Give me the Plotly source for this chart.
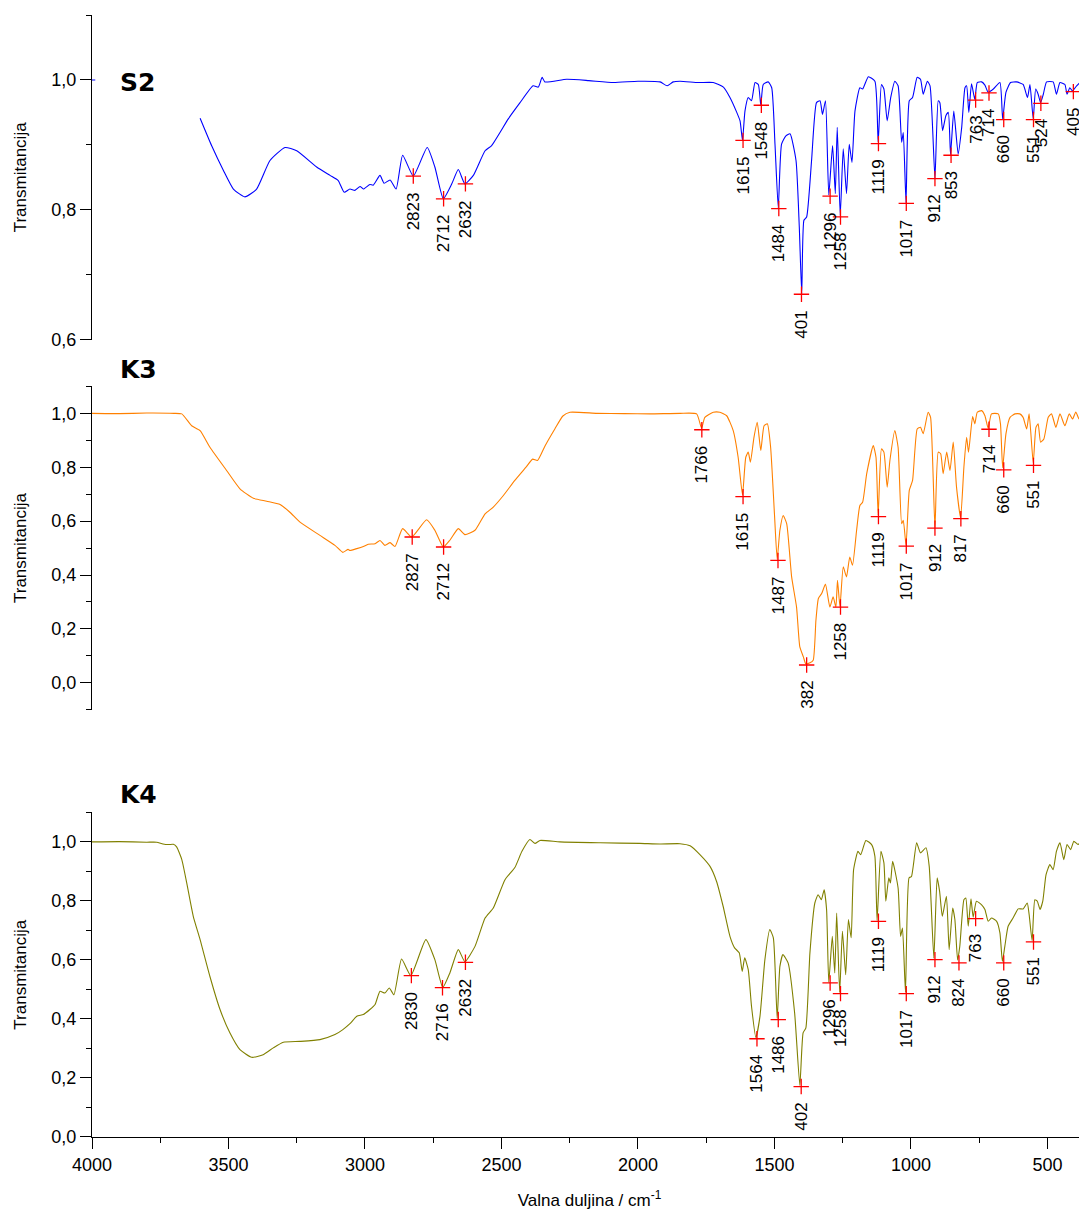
import plotly.graph_objects as go

# ---------------- data ----------------
# S2 spectrum
s2_wn = [4000, 3988, None,
         3604, 3562, 3519, 3482, 3440, 3397, 3348, 3293, 3250, 3177, 3128, 3098, 3076, 3055, 3037,
         3018, 3006, 2982, 2970, 2945, 2930, 2908, 2886, 2862, 2823, 2772, 2744, 2713, 2682, 2658,
         2634, 2603, 2560, 2536, 2475, 2432, 2384, 2365, 2351, 2341, 2261, 2180, 2090, 2000, 1919,
         1893, 1871, 1846, 1779, 1724, 1687, 1663, 1638, 1626, 1617, 1608, 1596, 1584, 1571, 1559,
         1550, 1541, 1523, 1510, 1498, 1486, 1474, 1458, 1443, 1421, 1409, 1400, 1392, 1382, 1364,
         1346, 1333, 1324, 1313, 1301, 1287, 1277, 1270, 1259, 1248, 1236, 1226, 1216, 1205, 1187,
         1177, 1156, 1132, 1120, 1108, 1099, 1087, 1074, 1059, 1047, 1034, 1028, 1018, 1006, 994,
         977, 965, 955, 940, 930, 912, 900, 894, 884, 872, 863, 855, 843, 827, 814, 802, 796, 788,
         778, 766, 757, 741, 729, 717, 698, 674, 664, 652, 635, 613, 589, 573, 564, 552, 543, 534,
         525, 515, 503, 479, 467, 454, 436, 428, 418, 408, 393, 375, 363, 355]
s2_t = [1.000, 1.000, None,
        0.941, 0.899, 0.861, 0.832, 0.820, 0.832, 0.876, 0.896, 0.891, 0.866, 0.853, 0.845, 0.827, 0.832, 0.830,
        0.836, 0.832, 0.839, 0.838, 0.853, 0.841, 0.846, 0.832, 0.884, 0.852, 0.896, 0.866, 0.817, 0.840, 0.862,
        0.840, 0.853, 0.891, 0.899, 0.940, 0.965, 0.991, 0.989, 1.004, 0.997, 1.001, 0.999, 0.996, 0.998, 0.997,
        0.991, 0.997, 0.998, 0.996, 0.996, 0.989, 0.973, 0.950, 0.937, 0.907, 0.952, 0.973, 0.968, 0.996, 0.993,
        0.961, 0.993, 0.997, 0.988, 0.901, 0.803, 0.901, 0.914, 0.917, 0.876, 0.774, 0.671, 0.784, 0.789, 0.876,
        0.965, 0.968, 0.947, 0.968, 0.823, 0.899, 0.825, 0.927, 0.791, 0.894, 0.825, 0.901, 0.873, 0.952, 0.988,
        0.986, 1.005, 0.998, 0.904, 0.993, 0.986, 0.937, 0.973, 0.998, 0.991, 0.904, 0.919, 0.811, 0.968, 0.973,
        1.004, 1.001, 0.978, 0.998, 0.991, 0.849, 0.968, 0.965, 0.922, 0.945, 0.950, 0.885, 0.952, 0.886, 0.927,
        0.988, 0.991, 0.950, 0.994, 0.970, 0.996, 0.997, 0.992, 0.981, 0.986, 0.996, 0.940, 0.981, 0.996, 0.997,
        0.993, 0.973, 0.993, 0.940, 0.986, 0.978, 0.965, 0.978, 0.997, 0.997, 0.978, 0.996, 0.993, 0.978, 0.988,
        0.983, 0.991, 0.997, 0.988, 0.990]

# K3 spectrum
k3_wn = [4000, 3900, 3800, 3700, 3671, 3635, 3604, 3568, 3507, 3458, 3409, 3360, 3311, 3275, 3238,
         3165, 3110, 3081, 3062, 3055, 3030, 3006, 2988, 2963, 2945, 2927, 2908, 2890, 2862, 2829,
         2774, 2744, 2713, 2689, 2658, 2634, 2597, 2560, 2530, 2493, 2451, 2410, 2386, 2368, 2340,
         2304, 2275, 2249, 2150, 2050, 1956, 1846, 1785, 1767, 1755, 1724, 1700, 1675, 1651, 1633,
         1617, 1605, 1596, 1588, 1575, 1563, 1550, 1538, 1526, 1514, 1500, 1490, 1480, 1468, 1455,
         1437, 1419, 1407, 1394, 1385, 1370, 1358, 1348, 1339, 1327, 1313, 1297, 1285, 1275, 1269,
         1260, 1248, 1236, 1224, 1214, 1199, 1187, 1177, 1162, 1138, 1128, 1120, 1108, 1099, 1087,
         1077, 1059, 1047, 1034, 1028, 1018, 1006, 994, 977, 965, 955, 937, 928, 912, 900, 891, 882,
         869, 857, 845, 833, 818, 806, 796, 789, 774, 766, 757, 741, 729, 717, 705, 680, 672, 664,
         652, 637, 619, 601, 589, 576, 567, 552, 542, 534, 525, 513, 497, 485, 469, 454, 436, 420,
         408, 396, 384, 369, 355]
k3_t = [1.000, 0.999, 1.001, 1.000, 0.998, 0.954, 0.936, 0.874, 0.788, 0.720, 0.685, 0.674, 0.662, 0.633, 0.596,
        0.547, 0.510, 0.484, 0.495, 0.491, 0.498, 0.506, 0.514, 0.516, 0.528, 0.510, 0.520, 0.506, 0.572, 0.541,
        0.605, 0.566, 0.504, 0.529, 0.572, 0.550, 0.566, 0.627, 0.652, 0.695, 0.751, 0.800, 0.830, 0.825, 0.880,
        0.943, 0.990, 1.004, 1.000, 0.999, 0.998, 1.000, 0.998, 0.945, 0.985, 1.004, 1.004, 0.991, 0.936, 0.837,
        0.697, 0.837, 0.856, 0.819, 0.911, 0.967, 0.862, 0.954, 0.961, 0.874, 0.627, 0.458, 0.566, 0.621, 0.590,
        0.393, 0.281, 0.133, 0.096, 0.070, 0.074, 0.084, 0.232, 0.313, 0.331, 0.366, 0.281, 0.319, 0.281, 0.380,
        0.283, 0.430, 0.393, 0.467, 0.436, 0.566, 0.658, 0.670, 0.776, 0.880, 0.837, 0.622, 0.868, 0.856, 0.726,
        0.825, 0.936, 0.874, 0.590, 0.603, 0.511, 0.714, 0.751, 0.942, 0.948, 0.924, 1.004, 0.985, 0.576, 0.856,
        0.850, 0.776, 0.856, 0.788, 0.893, 0.726, 0.612, 0.800, 0.911, 0.856, 0.988, 0.961, 1.004, 1.010, 0.991,
        0.945, 0.998, 0.998, 0.961, 0.798, 0.924, 0.985, 0.998, 0.998, 0.985, 0.942, 0.998, 0.816, 0.948, 0.961,
        0.893, 0.905, 0.985, 0.998, 0.948, 0.998, 0.954, 0.998, 0.979, 1.005, 0.979, 0.998, 0.998]

# K4 spectrum
k4_wn = [4000, 3900, 3800, 3763, 3740, 3720, 3702, 3690, 3671, 3653, 3629, 3604, 3568, 3531, 3495,
         3458, 3415, 3373, 3336, 3299, 3238, 3165, 3110, 3081, 3055, 3030, 3006, 2982, 2963, 2945,
         2927, 2911, 2894, 2866, 2832, 2777, 2744, 2715, 2689, 2658, 2634, 2597, 2560, 2530, 2487,
         2451, 2425, 2396, 2377, 2359, 2286, 2139, 1993, 1920, 1846, 1809, 1773, 1736, 1712, 1688,
         1663, 1646, 1629, 1618, 1609, 1596, 1584, 1568, 1553, 1535, 1517, 1504, 1490, 1480, 1469,
         1450, 1426, 1407, 1395, 1385, 1370, 1352, 1340, 1328, 1318, 1309, 1301, 1288, 1279, 1272,
         1261, 1251, 1239, 1229, 1219, 1210, 1194, 1184, 1165, 1144, 1132, 1124, 1110, 1099, 1092,
         1081, 1075, 1067, 1047, 1038, 1031, 1020, 1007, 998, 979, 965, 945, 933, 916, 904, 895, 885,
         870, 860, 847, 839, 829, 821, 806, 799, 790, 780, 772, 760, 741, 729, 717, 705, 686, 674,
         665, 656, 644, 626, 607, 589, 574, 567, 556, 546, 537, 527, 517, 505, 491, 479, 467, 454,
         440, 428, 415, 403, 388, 375, 363, 355]
k4_t = [1.000, 1.001, 0.999, 0.999, 0.993, 0.991, 0.992, 0.983, 0.940, 0.861, 0.748, 0.669, 0.544, 0.432, 0.353,
        0.296, 0.270, 0.279, 0.302, 0.321, 0.324, 0.330, 0.347, 0.364, 0.384, 0.409, 0.415, 0.432, 0.449, 0.494,
        0.488, 0.505, 0.482, 0.603, 0.547, 0.669, 0.601, 0.507, 0.556, 0.635, 0.594, 0.646, 0.742, 0.776, 0.872,
        0.913, 0.968, 1.008, 0.995, 1.005, 1.000, 0.997, 0.995, 0.993, 0.994, 0.987, 0.957, 0.917, 0.866, 0.782,
        0.680, 0.641, 0.624, 0.561, 0.607, 0.567, 0.443, 0.337, 0.409, 0.601, 0.703, 0.675, 0.402, 0.578, 0.618,
        0.590, 0.420, 0.175, 0.353, 0.369, 0.624, 0.793, 0.821, 0.804, 0.838, 0.771, 0.525, 0.680, 0.556, 0.759,
        0.490, 0.697, 0.550, 0.737, 0.675, 0.906, 0.968, 0.957, 1.005, 0.991, 0.951, 0.734, 0.968, 0.929, 0.799,
        0.878, 0.861, 0.934, 0.844, 0.680, 0.708, 0.490, 0.878, 0.883, 0.997, 0.963, 0.980, 0.917, 0.606, 0.878,
        0.833, 0.748, 0.816, 0.635, 0.776, 0.737, 0.600, 0.646, 0.804, 0.810, 0.714, 0.807, 0.745, 0.799, 0.787,
        0.771, 0.731, 0.742, 0.731, 0.692, 0.595, 0.646, 0.714, 0.742, 0.773, 0.773, 0.793, 0.754, 0.665, 0.804,
        0.799, 0.771, 0.799, 0.889, 0.923, 0.906, 0.968, 0.997, 0.940, 0.991, 0.974, 1.002, 0.991, 1.002, 0.974,
        0.940]

# Marked peaks (position, transmittance, label as printed)
s2_peak_wn = [2823, 2712, 2632, 1615, 1548, 1484, 1401, 1296, 1258, 1119, 1017, 912, 853, 763, 714, 660, 551, 524, 405]
s2_peak_t = [0.852, 0.817, 0.840, 0.907, 0.961, 0.802, 0.670, 0.821, 0.789, 0.902, 0.810, 0.848, 0.884, 0.969, 0.980,
             0.939, 0.939, 0.964, 0.982]
s2_peak_lbl = ["2823", "2712", "2632", "1615", "1548", "1484", "401", "1296", "1258", "1119", "1017", "912", "853",
               "763", "714", "660", "551", "524", "405"]

k3_peak_wn = [2827, 2712, 1766, 1615, 1487, 1382, 1258, 1119, 1017, 912, 817, 714, 660, 551]
k3_peak_t = [0.541, 0.504, 0.939, 0.691, 0.454, 0.066, 0.281, 0.617, 0.507, 0.574, 0.609, 0.941, 0.790, 0.807]
k3_peak_lbl = ["2827", "2712", "1766", "1615", "1487", "382", "1258", "1119", "1017", "912", "817", "714", "660", "551"]

k4_peak_wn = [2830, 2716, 2632, 1564, 1486, 1402, 1296, 1258, 1119, 1017, 912, 824, 763, 660, 551]
k4_peak_t = [0.547, 0.506, 0.592, 0.333, 0.398, 0.171, 0.522, 0.486, 0.731, 0.486, 0.601, 0.590, 0.740, 0.590, 0.661]
k4_peak_lbl = ["2830", "2716", "2632", "1564", "1486", "402", "1296", "1258", "1119", "1017", "912", "824", "763",
               "660", "551"]

panel_names = ["S2", "K3", "K4"]
line_colors = ["#0000ff", "#ff8000", "#808000"]

# ---------------- figure ----------------
FONT = "Arial, 'Liberation Sans', sans-serif"
fig = go.Figure()

spectra = [(s2_wn, s2_t, "y"), (k3_wn, k3_t, "y2"), (k4_wn, k4_t, "y3")]
peaks = [(s2_peak_wn, s2_peak_t, s2_peak_lbl, "y"),
         (k3_peak_wn, k3_peak_t, k3_peak_lbl, "y2"),
         (k4_peak_wn, k4_peak_t, k4_peak_lbl, "y3")]

for (wn, t, ya), col in zip(spectra, line_colors):
    fig.add_trace(go.Scatter(x=wn, y=t, mode="lines", xaxis="x", yaxis=ya,
                             line=dict(color=col, width=1.1, shape="spline", smoothing=0.5),
                             connectgaps=False, hoverinfo="skip"))

for pwn, pt, plbl, ya in peaks:
    fig.add_trace(go.Scatter(x=pwn, y=pt, mode="markers", xaxis="x", yaxis=ya,
                             marker=dict(symbol="cross-thin", size=11,
                                         line=dict(color="#ff0000", width=1.3)),
                             hoverinfo="skip"))
    for xw, yt, lb in zip(pwn, pt, plbl):
        fig.add_annotation(x=xw, y=yt, xref="x", yref=ya, text=lb, showarrow=False,
                           textangle=-90, xanchor="center", yanchor="top", yshift=-14,
                           font=dict(family=FONT, size=17, color="black"))

# panel titles
title_y = [0.9397, 0.6839, 0.3051]
for name, ty in zip(panel_names, title_y):
    fig.add_annotation(x=0.026, y=ty, xref="paper", yref="paper", text="<b>%s</b>" % name,
                       showarrow=False, xanchor="left", yanchor="middle",
                       font=dict(family="'DejaVu Sans', Verdana, sans-serif", size=25, color="black"))

yax_common = dict(showline=True, linecolor="black", linewidth=1.3, ticks="outside", ticklen=11,
                  tickwidth=1.3, tickcolor="black", showgrid=False, zeroline=False, anchor="x",
                  tickformat=".1f", dtick=0.2, tick0=0,
                  minor=dict(ticks="outside", ticklen=5, tickwidth=1.3, tickcolor="black", dtick=0.1,
                             tick0=0, showgrid=False),
                  tickfont=dict(family=FONT, size=18, color="black"),
                  title=dict(text="Transmitancija", font=dict(family=FONT, size=17, color="black"),
                             standoff=20))

fig.update_layout(
    width=1079, height=1206,
    margin=dict(l=84, r=0, t=7, b=77),
    paper_bgcolor="white", plot_bgcolor="white",
    showlegend=False, separators=",.",
    xaxis=dict(range=[4000, 355], anchor="y3", showline=True, linecolor="black", linewidth=1.3,
               ticks="outside", ticklen=11, tickwidth=1.3, tickcolor="black", dtick=500, tick0=0,
               minor=dict(ticks="outside", ticklen=5, tickwidth=1.3, tickcolor="black", dtick=250,
                          showgrid=False),
               showgrid=False, zeroline=False,
               tickfont=dict(family=FONT, size=18, color="black"),
               title=dict(text="Valna duljina / cm<sup>-1</sup>",
                          font=dict(family=FONT, size=17, color="black"), standoff=20)),
    yaxis=dict(domain=[0.7106, 1.0], range=[0.6, 1.1], **yax_common),
    yaxis2=dict(domain=[0.3808, 0.669], range=[-0.1, 1.1], **yax_common),
    yaxis3=dict(domain=[0.0, 0.2893], range=[0.0, 1.1], **yax_common),
)

fig.write_html("out.html")
